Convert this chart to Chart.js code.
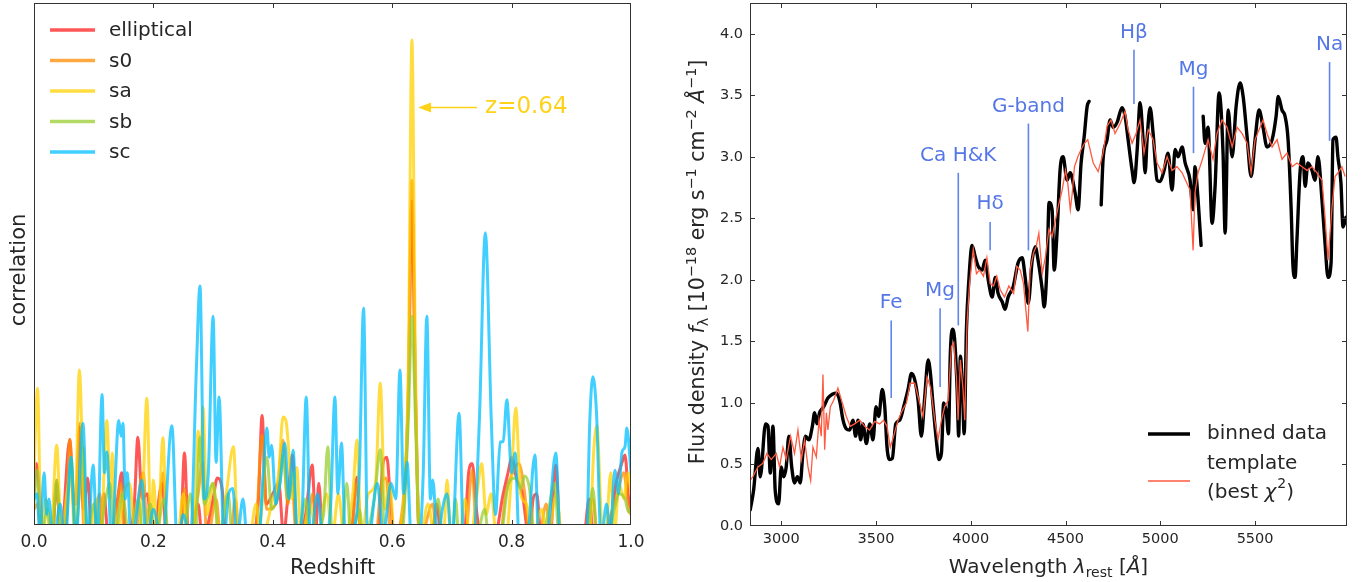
<!DOCTYPE html>
<html>
<head>
<meta charset="utf-8">
<script src="https://cdn.jsdelivr.net/npm/chart.js@4"></script>
<style>
  html, body { margin:0; padding:0; background:#fff; }
  #wrap { position:relative; width:1364px; height:582px; }
  .panel { position:absolute; top:0; width:682px; height:582px; }
</style>
</head>
<body>
<div id="wrap">
  <div class="panel" style="left:0"><canvas id="corr"></canvas></div>
  <div class="panel" style="left:682px"><canvas id="spec"></canvas></div>
</div>
<script>
// ---- left panel: cross-correlation vs redshift, one curve per template ----
const templateNames = ["elliptical", "s0", "sa", "sb", "sc"];
const zTicks = [0.0, 0.2, 0.4, 0.6, 0.8, 1.0];
const peakZ = 0.64;

// [z, correlation] (values below 0 fall outside the axes)
const ellipticalPts = [[0.000,0.06],[0.004,0.118],[0.010,0.05],[0.016,-0.03],[0.030,-0.03],[0.038,0.08],[0.045,-0.03],[0.060,0.164],[0.066,0.05],[0.070,0.04],[0.077,0.188],[0.083,0.03],[0.090,0.09],[0.097,-0.03],[0.110,-0.03],[0.117,0.06],[0.125,-0.03],[0.140,0.05],[0.147,0.10],[0.154,-0.03],[0.168,0.04],[0.174,0.168],[0.181,0.05],[0.190,0.06],[0.198,-0.03],[0.215,0.08],[0.222,-0.03],[0.245,-0.03],[0.252,0.138],[0.259,-0.03],[0.275,0.04],[0.282,-0.03],[0.300,0.05],[0.307,0.09],[0.315,0.07],[0.322,-0.03],[0.362,-0.03],[0.376,0.05],[0.382,0.21],[0.389,0.04],[0.400,0.06],[0.410,0.08],[0.418,-0.02],[0.425,0.05],[0.433,0.134],[0.440,-0.03],[0.455,0.02],[0.466,0.115],[0.472,-0.01],[0.477,0.08],[0.484,-0.03],[0.530,-0.03],[0.541,0.092],[0.548,-0.03],[0.575,-0.03],[0.585,0.12],[0.591,0.13],[0.597,0.05],[0.604,-0.03],[0.620,0.05],[0.627,0.25],[0.633,0.62],[0.639,0.25],[0.646,-0.03],[0.665,-0.03],[0.675,0.04],[0.682,-0.03],[0.720,-0.03],[0.728,0.10],[0.734,0.118],[0.742,0.02],[0.750,-0.03],[0.770,-0.03],[0.786,0.06],[0.795,0.105],[0.800,0.13],[0.808,0.09],[0.818,0.06],[0.830,-0.03],[0.836,0.05],[0.842,0.06],[0.850,-0.03],[0.864,-0.03],[0.874,0.115],[0.882,-0.03],[0.920,-0.03],[0.930,0.05],[0.938,-0.03],[0.960,-0.03],[0.975,0.08],[0.985,0.12],[0.990,0.134],[0.996,0.05],[1.000,0.03]];
const s0Pts = [[0.000,0.03],[0.006,0.04],[0.012,-0.03],[0.030,-0.03],[0.038,0.086],[0.045,-0.03],[0.053,-0.02],[0.060,0.164],[0.066,0.04],[0.071,0.06],[0.077,0.195],[0.084,-0.02],[0.098,-0.03],[0.110,0.06],[0.117,-0.03],[0.135,-0.02],[0.145,0.08],[0.152,-0.03],[0.170,-0.03],[0.178,0.08],[0.183,0.10],[0.190,-0.03],[0.205,-0.03],[0.216,0.10],[0.224,-0.03],[0.245,-0.03],[0.252,0.07],[0.259,-0.03],[0.275,0.06],[0.282,0.12],[0.290,-0.03],[0.305,0.05],[0.313,-0.03],[0.330,-0.02],[0.337,0.05],[0.345,-0.03],[0.370,-0.03],[0.382,0.172],[0.390,0.03],[0.405,0.04],[0.417,0.163],[0.425,0.04],[0.432,0.08],[0.440,-0.03],[0.460,0.02],[0.467,0.06],[0.474,-0.03],[0.530,-0.03],[0.541,0.08],[0.548,-0.03],[0.572,-0.03],[0.582,0.08],[0.590,0.09],[0.598,-0.03],[0.618,0.04],[0.627,0.25],[0.633,0.66],[0.639,0.25],[0.646,-0.03],[0.668,0.04],[0.675,-0.03],[0.722,-0.03],[0.734,0.105],[0.742,-0.03],[0.780,-0.03],[0.790,0.06],[0.798,0.09],[0.812,0.118],[0.822,0.06],[0.830,-0.03],[0.845,-0.03],[0.858,0.04],[0.866,-0.03],[0.920,-0.03],[0.936,0.05],[0.944,-0.03],[0.975,0.05],[0.988,0.10],[0.996,0.03],[1.000,0.02]];
const saPts = [[0.000,0.10],[0.006,0.262],[0.012,-0.03],[0.020,0.05],[0.028,-0.03],[0.038,0.153],[0.046,-0.03],[0.055,0.06],[0.062,0.10],[0.068,-0.02],[0.076,0.297],[0.084,0.02],[0.092,-0.03],[0.104,0.05],[0.112,-0.02],[0.122,0.20],[0.128,0.05],[0.131,0.138],[0.138,-0.03],[0.150,0.06],[0.160,0.08],[0.170,-0.03],[0.182,0.05],[0.189,0.243],[0.196,-0.02],[0.200,0.086],[0.207,-0.03],[0.216,0.167],[0.223,-0.03],[0.240,-0.03],[0.250,0.06],[0.258,-0.03],[0.268,-0.02],[0.275,0.18],[0.279,0.12],[0.283,0.226],[0.290,0.02],[0.300,0.08],[0.310,-0.02],[0.322,0.06],[0.334,0.15],[0.342,-0.03],[0.360,-0.03],[0.372,0.04],[0.380,-0.03],[0.400,0.05],[0.410,0.10],[0.417,0.207],[0.422,0.20],[0.428,0.12],[0.432,0.05],[0.440,0.11],[0.448,-0.03],[0.462,0.04],[0.475,-0.03],[0.490,0.06],[0.500,-0.02],[0.510,0.06],[0.520,-0.03],[0.534,0.06],[0.541,0.163],[0.548,-0.03],[0.560,0.06],[0.572,0.08],[0.580,0.272],[0.588,0.03],[0.596,0.08],[0.604,-0.03],[0.620,0.06],[0.627,0.30],[0.633,0.929],[0.639,0.30],[0.646,-0.03],[0.660,0.04],[0.672,-0.03],[0.686,-0.02],[0.692,0.086],[0.698,-0.03],[0.712,-0.03],[0.722,0.05],[0.730,-0.03],[0.742,0.06],[0.750,0.118],[0.757,0.02],[0.766,0.06],[0.775,-0.03],[0.790,-0.03],[0.800,0.10],[0.807,0.224],[0.815,0.06],[0.825,0.04],[0.835,-0.03],[0.850,0.03],[0.860,-0.03],[0.875,0.06],[0.885,-0.03],[0.930,-0.03],[0.938,0.15],[0.943,0.19],[0.950,0.02],[0.957,-0.03],[0.966,0.10],[0.972,-0.02],[0.980,0.08],[0.988,0.05],[0.995,0.10],[1.000,0.06]];
const sbPts = [[0.000,0.04],[0.005,0.105],[0.012,-0.03],[0.022,0.03],[0.030,-0.03],[0.038,0.086],[0.045,-0.03],[0.055,0.02],[0.062,0.13],[0.069,-0.02],[0.076,0.06],[0.082,0.15],[0.089,-0.02],[0.100,0.04],[0.108,-0.03],[0.120,0.05],[0.127,0.08],[0.135,-0.03],[0.148,0.06],[0.160,-0.03],[0.175,0.05],[0.183,-0.03],[0.195,0.04],[0.203,-0.03],[0.218,0.05],[0.226,-0.03],[0.250,-0.03],[0.262,0.06],[0.270,-0.03],[0.278,0.168],[0.285,0.04],[0.300,0.08],[0.310,-0.03],[0.325,0.06],[0.333,-0.03],[0.375,-0.03],[0.390,0.13],[0.398,0.03],[0.412,0.08],[0.417,0.134],[0.425,0.05],[0.434,0.10],[0.442,-0.03],[0.455,0.05],[0.462,-0.03],[0.485,0.02],[0.492,0.15],[0.500,-0.03],[0.515,-0.02],[0.524,0.08],[0.531,-0.03],[0.545,0.03],[0.552,-0.03],[0.570,0.05],[0.580,0.144],[0.588,-0.03],[0.615,-0.03],[0.627,0.20],[0.633,0.40],[0.639,0.20],[0.646,-0.03],[0.665,-0.03],[0.677,0.05],[0.685,-0.03],[0.700,-0.03],[0.706,0.05],[0.712,-0.03],[0.740,-0.03],[0.755,0.03],[0.762,-0.03],[0.780,-0.03],[0.795,0.08],[0.806,0.09],[0.815,0.07],[0.822,0.094],[0.830,0.07],[0.838,-0.02],[0.850,-0.03],[0.862,0.03],[0.872,0.08],[0.880,-0.03],[0.925,-0.03],[0.936,0.07],[0.944,-0.03],[0.960,-0.03],[0.972,0.03],[0.980,0.06],[0.990,0.05],[0.996,0.025],[1.000,0.03]];
const scPts = [[0.000,0.05],[0.005,0.06],[0.010,-0.02],[0.017,0.10],[0.021,0.02],[0.025,0.05],[0.032,-0.04],[0.044,0.04],[0.052,-0.04],[0.062,0.13],[0.070,-0.03],[0.082,0.195],[0.090,-0.03],[0.099,0.115],[0.106,-0.04],[0.114,0.25],[0.118,0.10],[0.122,0.14],[0.130,-0.04],[0.142,0.20],[0.146,0.17],[0.149,0.195],[0.153,0.05],[0.156,0.10],[0.163,-0.04],[0.181,0.086],[0.188,-0.04],[0.200,0.03],[0.215,-0.04],[0.231,0.19],[0.240,-0.04],[0.250,0.02],[0.262,-0.03],[0.272,0.30],[0.278,0.458],[0.285,0.05],[0.292,0.10],[0.300,0.40],[0.305,0.12],[0.310,0.245],[0.318,-0.03],[0.326,0.06],[0.333,0.07],[0.340,-0.03],[0.350,0.05],[0.358,-0.04],[0.375,-0.04],[0.384,0.10],[0.390,0.186],[0.394,0.13],[0.398,0.153],[0.405,0.04],[0.412,0.08],[0.420,0.157],[0.427,0.05],[0.434,0.143],[0.441,-0.02],[0.449,0.02],[0.456,0.245],[0.463,-0.03],[0.475,0.06],[0.485,-0.04],[0.497,0.04],[0.504,0.245],[0.509,0.06],[0.515,0.157],[0.522,-0.04],[0.532,-0.02],[0.545,0.10],[0.552,0.415],[0.559,-0.04],[0.575,0.08],[0.585,-0.02],[0.598,0.08],[0.606,0.05],[0.613,0.297],[0.619,0.06],[0.625,0.12],[0.632,-0.03],[0.645,-0.03],[0.652,0.10],[0.658,0.40],[0.664,0.05],[0.668,0.086],[0.676,-0.03],[0.684,0.03],[0.692,0.06],[0.700,-0.04],[0.712,0.214],[0.720,-0.04],[0.735,-0.04],[0.746,0.20],[0.756,0.56],[0.766,0.20],[0.773,0.02],[0.781,0.159],[0.786,0.16],[0.792,0.24],[0.800,0.10],[0.806,0.138],[0.813,-0.04],[0.825,-0.04],[0.839,0.134],[0.846,-0.04],[0.860,-0.02],[0.874,0.138],[0.882,-0.04],[0.925,-0.04],[0.931,0.20],[0.936,0.284],[0.942,0.22],[0.950,-0.03],[0.959,0.04],[0.965,-0.02],[0.973,0.105],[0.979,0.06],[0.985,0.14],[0.990,0.15],[0.993,0.186],[1.000,0.10]];

const corrSeries = [ellipticalPts, s0Pts, saPts, sbPts, scPts];
const corrColors = ["rgba(255,30,30,0.75)", "rgba(255,140,0,0.75)", "rgba(255,210,0,0.75)", "rgba(154,205,50,0.75)", "rgba(0,191,255,0.75)"];

// ---- right panel: rest-frame spectrum and best template ----
const waveTicks = [3000, 3500, 4000, 4500, 5000, 5500];
const fluxTicks = [0.0, 0.5, 1.0, 1.5, 2.0, 2.5, 3.0, 3.5, 4.0];

// [wavelength, flux]; null marks a hole in the binned data
const binnedPts = [[2836,0.13],[2854,0.29],[2877,0.63],[2889,0.40],[2917,0.83],[2930,0.81],[2942,0.43],[2956,0.81],[2968,0.29],[2986,0.18],[3000,0.48],[3012,0.40],[3026,0.48],[3040,0.73],[3055,0.48],[3070,0.35],[3085,0.40],[3100,0.35],[3114,0.59],[3128,0.73],[3146,0.70],[3164,0.81],[3176,0.92],[3188,0.83],[3202,0.92],[3224,0.97],[3246,1.04],[3269,1.07],[3290,1.08],[3308,1.02],[3326,0.86],[3343,0.79],[3361,0.78],[3378,0.86],[3392,0.73],[3405,0.86],[3419,0.70],[3431,0.83],[3449,0.67],[3467,0.83],[3484,0.70],[3500,0.97],[3514,0.89],[3533,1.11],[3546,0.97],[3558,0.64],[3572,0.54],[3586,0.55],[3604,0.83],[3625,0.86],[3646,0.97],[3669,1.11],[3687,1.24],[3704,1.19],[3722,1.02],[3739,0.73],[3757,1.05],[3775,1.35],[3787,1.24],[3800,1.00],[3818,0.70],[3832,0.54],[3845,0.59],[3857,1.00],[3871,0.92],[3882,0.75],[3892,1.40],[3903,1.60],[3915,1.51],[3928,1.11],[3936,0.73],[3945,1.38],[3956,1.11],[3965,0.75],[3977,1.60],[3989,1.98],[4007,2.28],[4023,2.19],[4039,2.11],[4060,2.08],[4076,2.16],[4092,2.00],[4113,1.86],[4129,2.02],[4144,1.89],[4166,1.82],[4181,1.76],[4197,1.86],[4223,1.94],[4250,2.14],[4271,2.18],[4287,2.02],[4303,1.81],[4324,2.16],[4340,2.27],[4355,2.16],[4377,1.92],[4387,1.78],[4403,2.14],[4413,2.63],[4429,2.57],[4440,2.08],[4456,2.41],[4471,2.89],[4487,3.00],[4508,2.81],[4524,2.87],[4550,2.71],[4566,2.57],[4582,2.95],[4598,3.16],[4614,3.41],[4624,3.45],[4650,null],[4688,2.61],[4698,2.98],[4719,3.14],[4735,3.30],[4751,3.24],[4772,3.28],[4798,3.40],[4814,3.33],[4830,3.14],[4851,2.89],[4862,2.79],[4878,3.06],[4893,3.44],[4909,3.14],[4920,2.87],[4930,3.14],[4946,3.40],[4962,3.19],[4983,2.81],[4999,2.80],[5020,2.89],[5041,3.03],[5062,2.73],[5078,3.06],[5094,3.00],[5115,3.08],[5131,2.95],[5157,2.81],[5173,2.57],[5183,2.92],[5194,2.76],[5215,2.28],[5220,null],[5226,3.33],[5236,3.11],[5252,3.24],[5273,2.46],[5289,2.76],[5310,3.52],[5331,3.03],[5342,2.38],[5358,3.38],[5379,3.00],[5400,3.41],[5421,3.60],[5437,3.49],[5458,3.16],[5479,2.84],[5500,3.14],[5521,3.38],[5542,3.24],[5563,3.08],[5590,3.14],[5611,3.33],[5622,3.49],[5642,3.38],[5658,3.33],[5674,3.14],[5690,2.59],[5700,2.11],[5711,2.02],[5721,2.33],[5737,2.87],[5753,3.00],[5764,2.76],[5779,2.95],[5800,2.89],[5816,2.81],[5832,3.00],[5853,2.65],[5869,2.30],[5885,2.02],[5901,2.14],[5911,3.14],[5927,3.16],[5937,3.00],[5953,2.79],[5964,2.43],[5980,2.51]];
const templatePts = [[2836,0.37],[2850,0.40],[2877,0.48],[2903,0.51],[2924,0.59],[2947,0.54],[2974,0.59],[2991,0.48],[3009,0.64],[3026,0.54],[3049,0.73],[3070,0.59],[3088,0.78],[3106,0.54],[3123,0.70],[3141,0.48],[3155,0.37],[3167,0.64],[3185,0.56],[3199,0.86],[3211,0.73],[3220,1.23],[3229,0.62],[3238,0.92],[3246,0.78],[3259,0.97],[3276,1.02],[3299,1.12],[3322,1.00],[3343,0.89],[3364,0.81],[3387,0.83],[3414,0.86],[3440,0.81],[3466,0.78],[3493,0.85],[3519,0.83],[3540,0.86],[3558,0.81],[3575,0.64],[3593,0.73],[3616,0.86],[3639,0.94],[3660,1.00],[3680,1.16],[3704,1.16],[3727,1.02],[3748,0.89],[3769,1.21],[3787,1.13],[3810,0.86],[3827,0.70],[3845,0.86],[3862,0.97],[3880,1.02],[3898,1.46],[3910,1.49],[3924,1.21],[3933,0.86],[3945,1.35],[3959,1.11],[3968,0.86],[3980,1.65],[3994,1.98],[4013,2.25],[4030,2.05],[4046,2.08],[4067,2.03],[4085,2.18],[4102,1.97],[4120,1.95],[4137,2.03],[4155,1.92],[4178,1.86],[4201,1.95],[4226,1.89],[4243,2.11],[4261,2.08],[4278,1.97],[4301,1.58],[4313,2.08],[4331,2.22],[4345,2.27],[4359,2.38],[4377,2.05],[4394,2.19],[4412,2.41],[4429,2.35],[4447,2.49],[4465,2.62],[4482,2.73],[4500,2.89],[4512,2.78],[4525,2.57],[4535,2.70],[4547,2.92],[4565,3.00],[4582,3.06],[4600,3.11],[4617,3.14],[4646,2.95],[4672,2.88],[4698,3.03],[4719,3.25],[4740,3.30],[4761,3.19],[4788,3.27],[4814,3.37],[4830,3.22],[4851,3.11],[4872,3.19],[4893,3.30],[4914,3.03],[4936,3.22],[4962,3.14],[4983,2.95],[5009,2.87],[5036,3.00],[5062,2.89],[5088,2.92],[5115,2.87],[5136,2.80],[5157,2.73],[5173,2.24],[5183,2.71],[5199,2.87],[5226,3.00],[5252,3.14],[5278,2.98],[5299,3.19],[5326,3.30],[5352,3.24],[5379,3.08],[5405,3.24],[5431,3.19],[5458,3.11],[5479,2.87],[5500,3.14],[5521,3.22],[5542,3.30],[5563,3.19],[5590,3.08],[5616,3.14],[5642,2.98],[5669,3.03],[5695,2.92],[5721,2.95],[5748,2.92],[5774,2.89],[5800,2.92],[5827,2.87],[5853,2.81],[5869,2.51],[5885,2.16],[5906,2.59],[5922,2.84],[5937,2.87],[5958,2.92],[5975,2.84]];

// spectral features: name, wavelength, label centre, line top, line bottom (flux units)
const lineNames  = ["Fe", "Mg", "Ca H&K", "Hδ", "G-band", "Hβ", "Mg", "Na"];
const lineWave   = [3580, 3838, 3934, 4102, 4304, 4861, 5175, 5893];
const lineLabelY = [1.81, 1.91, 3.01, 2.62, 3.41, 4.01, 3.71, 3.91];
const lineTop    = [1.67, 1.77, 2.87, 2.47, 3.27, 3.87, 3.57, 3.77];
const lineBottom = [1.04, 1.13, 1.63, 2.24, 2.24, 3.43, 3.03, 3.13];

const FONT = '"DejaVu Sans", sans-serif';
const INK = "#262626";

// text with italic / super / subscript runs, centred on (x, y)
function richText(ctx, parts, x, y, size, rot) {
  const fontFor = k => {
    const s = (k.includes("^") || k.includes("_")) ? size * 0.7 : size;
    return (k.includes("i") ? "italic " : "") + s + "px " + FONT;
  };
  ctx.save();
  ctx.translate(x, y);
  if (rot) ctx.rotate(rot);
  let w = 0;
  parts.forEach(p => { ctx.font = fontFor(p[1]); w += ctx.measureText(p[0]).width; });
  let cx = -w / 2;
  ctx.textAlign = "left";
  ctx.textBaseline = "alphabetic";
  ctx.fillStyle = INK;
  parts.forEach(p => {
    ctx.font = fontFor(p[1]);
    const dy = p[1].includes("^") ? -size * 0.42 : p[1].includes("_") ? size * 0.2 : 0;
    ctx.fillText(p[0], cx, size * 0.36 + dy);
    cx += ctx.measureText(p[0]).width;
  });
  ctx.restore();
}

function frame(ctx, a) {
  ctx.save();
  ctx.strokeStyle = "#333";
  ctx.lineWidth = 1;
  ctx.strokeRect(a.left + 0.5, a.top + 0.5, a.right - a.left - 1, a.bottom - a.top - 1);
  ctx.restore();
}

function inTicks(ctx, scale, vals, a, sides, len) {
  ctx.save();
  ctx.strokeStyle = "#333";
  ctx.lineWidth = 1;
  ctx.beginPath();
  vals.forEach(v => {
    const p = Math.round(scale.getPixelForValue(v)) + 0.5;
    if (sides.includes("b")) { ctx.moveTo(p, a.bottom); ctx.lineTo(p, a.bottom - len); }
    if (sides.includes("t")) { ctx.moveTo(p, a.top); ctx.lineTo(p, a.top + len); }
    if (sides.includes("l")) { ctx.moveTo(a.left, p); ctx.lineTo(a.left + len, p); }
    if (sides.includes("r")) { ctx.moveTo(a.right, p); ctx.lineTo(a.right - len, p); }
  });
  ctx.stroke();
  ctx.restore();
}

// pin the axis boxes so the plot areas land where the reference has them
function pinX(h) {
  return s => { s.height = h; s.paddingLeft = 0; s.paddingRight = 0; s.paddingTop = 0; s.paddingBottom = 0; };
}
function pinY(w) {
  return s => { s.width = w; s.paddingTop = 0; s.paddingBottom = 0; s.paddingLeft = 0; s.paddingRight = 0; };
}

const corrDeco = {
  id: "corrDeco",
  afterDatasetsDraw(chart) {
    const { ctx, chartArea: a, scales: { x, y } } = chart;
    frame(ctx, a);
    inTicks(ctx, x, zTicks.slice(1, -1), a, "bt", 5);

    // legend, top left
    ctx.save();
    chart.data.datasets.forEach((ds, i) => {
      const ly = 30 + i * 30.5;
      ctx.strokeStyle = ds.borderColor;
      ctx.lineWidth = 3.5;
      ctx.beginPath(); ctx.moveTo(50, ly); ctx.lineTo(95, ly); ctx.stroke();
      ctx.fillStyle = INK;
      ctx.font = "20px " + FONT;
      ctx.textBaseline = "middle";
      ctx.fillText(ds.label, 109, ly + 1);
    });

    // z=0.64 arrow
    const tipX = x.getPixelForValue(peakZ) + 2;
    const tipY = y.getPixelForValue(0.80);
    ctx.strokeStyle = "#ffd21a";
    ctx.fillStyle = "#ffd21a";
    ctx.lineWidth = 1.5;
    ctx.beginPath(); ctx.moveTo(tipX + 10, tipY); ctx.lineTo(tipX + 59, tipY); ctx.stroke();
    ctx.beginPath(); ctx.moveTo(tipX, tipY); ctx.lineTo(tipX + 13, tipY - 5); ctx.lineTo(tipX + 13, tipY + 5); ctx.closePath(); ctx.fill();
    ctx.font = "23px " + FONT;
    ctx.textBaseline = "middle";
    ctx.fillText("z=" + peakZ.toFixed(2), tipX + 67, tipY);
    ctx.restore();

    richText(ctx, [["correlation", ""]], 17, 270, 21, -Math.PI / 2);
    richText(ctx, [["Redshift", ""]], (a.left + a.right) / 2, 566, 21, 0);
  }
};

const specDeco = {
  id: "specDeco",
  afterDatasetsDraw(chart) {
    const { ctx, chartArea: a, scales: { x, y } } = chart;
    frame(ctx, a);
    inTicks(ctx, x, waveTicks, a, "bt", 5);
    inTicks(ctx, y, fluxTicks.slice(1), a, "lr", 5);

    // feature markers
    ctx.save();
    ctx.strokeStyle = "rgba(80,120,235,0.9)";
    ctx.fillStyle = "#5577e6";
    ctx.lineWidth = 1.6;
    ctx.font = "20px " + FONT;
    ctx.textAlign = "center";
    ctx.textBaseline = "middle";
    lineNames.forEach((n, i) => {
      const px = x.getPixelForValue(lineWave[i]);
      ctx.beginPath();
      ctx.moveTo(px, y.getPixelForValue(lineTop[i]));
      ctx.lineTo(px, y.getPixelForValue(lineBottom[i]));
      ctx.stroke();
      ctx.fillText(n, px, y.getPixelForValue(lineLabelY[i]));
    });
    ctx.restore();

    // legend, lower right
    const ox = 466;
    ctx.save();
    ctx.lineCap = "butt";
    ctx.strokeStyle = chart.data.datasets[1].borderColor;
    ctx.lineWidth = 3.5;
    ctx.beginPath(); ctx.moveTo(ox, 434); ctx.lineTo(ox + 42, 434); ctx.stroke();
    ctx.strokeStyle = chart.data.datasets[0].borderColor;
    ctx.lineWidth = 1.5;
    ctx.beginPath(); ctx.moveTo(ox, 481); ctx.lineTo(ox + 42, 481); ctx.stroke();
    ctx.restore();
    const lx = ox + 59;
    ctx.save();
    ctx.fillStyle = INK;
    ctx.font = "20px " + FONT;
    ctx.textBaseline = "middle";
    ctx.fillText("binned data", lx, 434);
    ctx.fillText("template", lx, 464);
    ctx.restore();
    // "(best χ²)"
    ctx.save();
    ctx.fillStyle = INK;
    ctx.textBaseline = "middle";
    let cx = lx;
    [["(best ", "20px "], ["χ", "italic 20px "], ["2", "14px "], [")", "20px "]].forEach(p => {
      ctx.font = p[1] + FONT;
      ctx.fillText(p[0], cx, p[0] === "2" ? 484 : 493);
      cx += ctx.measureText(p[0]).width + (p[0] === "χ" ? 1 : 0);
    });
    ctx.restore();

    richText(ctx, [
      ["Flux density ", ""], ["f", "i"], ["λ", "_"], [" [10", ""], ["−18", "^"], [" erg s", ""],
      ["−1", "^"], [" cm", ""], ["−2", "^"], [" ", ""], ["Å", "i"], ["−1", "^"], ["]", ""]
    ], 15, 262, 20.5, -Math.PI / 2);
    richText(ctx, [["Wavelength ", ""], ["λ", "i"], ["rest", "_"], [" [", ""], ["Å", "i"], ["]", ""]],
      (a.left + a.right) / 2, 566, 20, 0);
  }
};

Chart.defaults.font.family = FONT;

new Chart(document.getElementById("corr"), {
  type: "line",
  data: {
    datasets: templateNames.map((n, i) => ({
      label: n,
      data: corrSeries[i].map(p => ({ x: p[0], y: p[1] })),
      borderColor: corrColors[i],
      borderWidth: 3,
      pointRadius: 0,
      cubicInterpolationMode: "monotone",
      borderCapStyle: "round",
      borderJoinStyle: "round",
      fill: false,
      clip: 0,
      order: templateNames.length - i
    }))
  },
  options: {
    responsive: true,
    maintainAspectRatio: false,
    animation: false,
    events: [],
    layout: { padding: { left: 34, right: 51, top: 3, bottom: 0 } },
    plugins: { legend: { display: false }, tooltip: { enabled: false } },
    scales: {
      x: {
        type: "linear", min: 0, max: 1,
        afterFit: pinX(57),
        afterBuildTicks: s => { s.ticks = zTicks.map(v => ({ value: v })); },
        ticks: { callback: v => v.toFixed(1), font: { size: 17 }, color: INK, padding: 7, maxRotation: 0 },
        grid: { display: false, drawTicks: false },
        border: { display: false }
      },
      y: { display: false, min: 0, max: 1 }
    }
  },
  plugins: [corrDeco]
});

new Chart(document.getElementById("spec"), {
  type: "line",
  data: {
    datasets: [
      {
        label: "template (best χ²)",
        data: templatePts.map(p => ({ x: p[0], y: p[1] })),
        borderColor: "#ff5a40",
        borderWidth: 1.3,
        pointRadius: 0,
        tension: 0,
        fill: false,
        clip: 0,
        order: 1
      },
      {
        label: "binned data",
        data: binnedPts.map(p => ({ x: p[0], y: p[1] })),
        borderColor: "#000",
        borderWidth: 3.4,
        pointRadius: 0,
        cubicInterpolationMode: "monotone",
        spanGaps: false,
        borderCapStyle: "round",
        borderJoinStyle: "round",
        fill: false,
        clip: 0,
        order: 2
      }
    ]
  },
  options: {
    responsive: true,
    maintainAspectRatio: false,
    animation: false,
    events: [],
    layout: { padding: { left: 0, right: 17, top: 3, bottom: 0 } },
    plugins: { legend: { display: false }, tooltip: { enabled: false } },
    scales: {
      x: {
        type: "linear", min: 2835, max: 5985,
        afterFit: pinX(56),
        afterBuildTicks: s => { s.ticks = waveTicks.map(v => ({ value: v })); },
        ticks: { callback: v => String(v), font: { size: 14.5 }, color: INK, padding: 5, maxRotation: 0 },
        grid: { display: false, drawTicks: false },
        border: { display: false }
      },
      y: {
        type: "linear", min: 0, max: 4.25,
        afterFit: pinY(68),
        afterBuildTicks: s => { s.ticks = fluxTicks.map(v => ({ value: v })); },
        ticks: { callback: v => v.toFixed(1), font: { size: 14.5 }, color: INK, padding: 7 },
        grid: { display: false, drawTicks: false },
        border: { display: false }
      }
    }
  },
  plugins: [specDeco]
});
</script>
</body>
</html>
